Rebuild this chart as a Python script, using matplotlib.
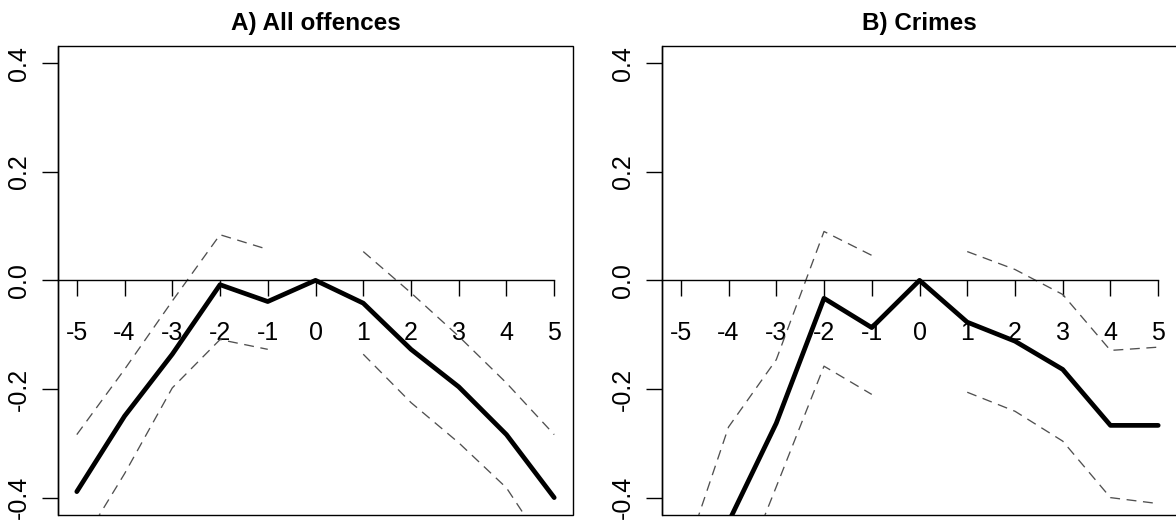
import matplotlib
matplotlib.use("Agg")
import matplotlib.pyplot as plt

# ---------------- data ----------------
x_all = [-5, -4, -3, -2, -1, 0, 1, 2, 3, 4, 5]
x_pre = [-5, -4, -3, -2, -1]
x_post = [1, 2, 3, 4, 5]

# Panel A: All offences
a_est = [-0.389, -0.250, -0.136, -0.008, -0.039, 0.0, -0.042, -0.127, -0.196, -0.284, -0.400]
a_upper_pre = [-0.284, -0.164, -0.038, 0.084, 0.057]
a_lower_pre = [-0.500, -0.356, -0.198, -0.109, -0.127]
a_upper_post = [0.053, -0.023, -0.103, -0.189, -0.284]
a_lower_post = [-0.136, -0.225, -0.299, -0.382, -0.515]

# Panel B: Crimes
b_est = [-0.620, -0.445, -0.263, -0.033, -0.087, 0.0, -0.077, -0.112, -0.164, -0.267, -0.267]
b_upper_pre = [-0.530, -0.270, -0.146, 0.090, 0.046]
b_lower_pre = [-0.800, -0.600, -0.380, -0.158, -0.210]
b_upper_post = [0.053, 0.020, -0.026, -0.129, -0.123]
b_lower_post = [-0.206, -0.241, -0.296, -0.400, -0.411]

titles = ["A) All offences", "B) Crimes"]
xticks = [-5, -4, -3, -2, -1, 0, 1, 2, 3, 4, 5]
xticklabels = ["-5", "-4", "-3", "-2", "-1", "0", "1", "2", "3", "4", "5"]
yticks = [-0.4, -0.2, 0.0, 0.2, 0.4]
yticklabels = ["-0.4", "-0.2", "0.0", "0.2", "0.4"]

panels = [
    (a_est, a_upper_pre, a_lower_pre, a_upper_post, a_lower_post),
    (b_est, b_upper_pre, b_lower_pre, b_upper_post, b_lower_post),
]

# ---------------- figure ----------------
plt.rcParams["font.family"] = ["Liberation Sans", "DejaVu Sans"]
W, H = 1176, 521
fig = plt.figure(figsize=(W / 100, H / 100), dpi=100)

ax_w = 515.6 / W
ax_h = (515.0 - 45.7) / H
ax_b = (H - 515.0) / H
lefts = [57.7 / W, 661.7 / W]

ci_color = "#505050"
for i, (est, up_pre, lo_pre, up_post, lo_post) in enumerate(panels):
    ax = fig.add_axes([lefts[i], ax_b, ax_w, ax_h])
    ax.set_xlim(-5.4, 5.4)
    ax.set_ylim(-0.432, 0.432)

    # box drawn by the axes patch
    ax.patch.set_edgecolor("black")
    ax.patch.set_linewidth(1.0)
    ax.spines["top"].set_visible(False)
    ax.spines["right"].set_visible(False)
    ax.spines["left"].set_linewidth(1.0)
    # x axis drawn through zero
    ax.spines["bottom"].set_position(("data", 0))
    ax.spines["bottom"].set_bounds(-5.4, 5)
    ax.spines["bottom"].set_linewidth(1.0)

    ax.set_xticks(xticks)
    ax.set_xticklabels(xticklabels)
    ax.set_yticks(yticks)
    ax.set_yticklabels(yticklabels, rotation=90, va="center")
    ax.tick_params(axis="x", direction="out", length=11.5, width=1.0,
                   labelsize=18, pad=18)
    ax.tick_params(axis="y", direction="out", length=11.5, width=1.0,
                   labelsize=18, pad=8)

    dash_kw = dict(color=ci_color, lw=0.95, dashes=(7.5, 5.0), dash_capstyle="butt")
    ax.plot(x_pre, up_pre, **dash_kw)
    ax.plot(x_pre, lo_pre, **dash_kw)
    ax.plot(x_post, up_post, **dash_kw)
    ax.plot(x_post, lo_post, **dash_kw)
    ax.plot(x_all, est, color="black", lw=3.4,
            solid_capstyle="round", solid_joinstyle="round", zorder=3)

    ax.set_title(titles[i], fontsize=17.5, fontweight="bold", pad=11)

fig.savefig("out.png", dpi=100)
